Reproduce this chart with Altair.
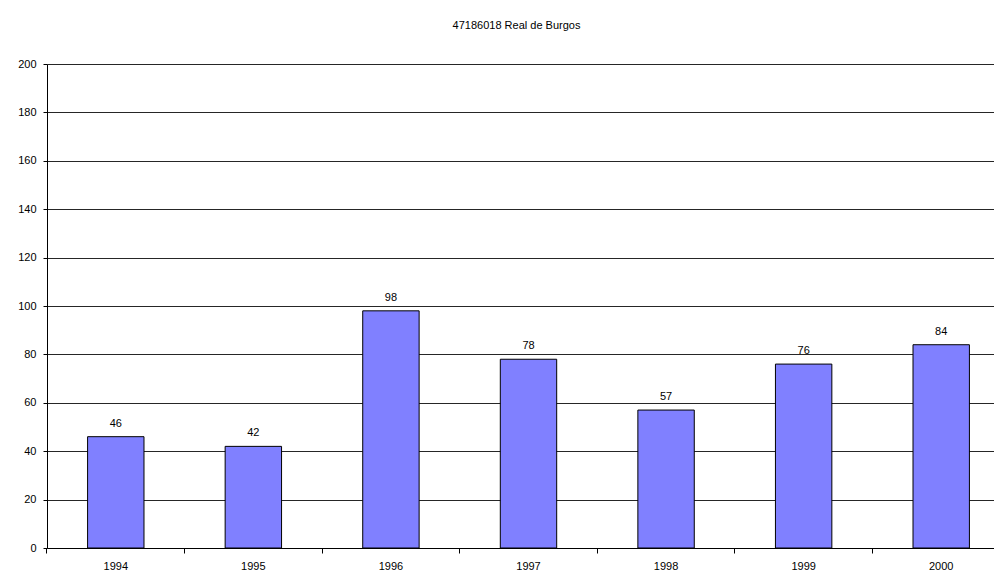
import altair as alt
import pandas as pd

years = ["1994", "1995", "1996", "1997", "1998", "1999", "2000"]
values = [46, 42, 98, 78, 57, 76, 84]
title_text = "47186018 Real de Burgos"

df = pd.DataFrame({"year": years, "value": values})

FONT = "Liberation Sans"

x_enc = alt.X(
    "year:N",
    sort=years,
    title=None,
    scale=alt.Scale(paddingInner=0, paddingOuter=0, range=[0, 963]),
    axis=alt.Axis(
        labelAngle=0,
        bandPosition=0,
        tickSize=5,
        labelPadding=7,
        domainColor="#000000",
        tickColor="#000000",
        labelFont=FONT,
        labelFontSize=11,
        labelColor="#000000",
        grid=False,
        labelBound=False,
        labelOverlap=False,
    ),
)
y_enc = alt.Y(
    "value:Q",
    title=None,
    scale=alt.Scale(domain=[0, 200], nice=False),
    axis=alt.Axis(
        values=[0, 20, 40, 60, 80, 100, 120, 140, 160, 180, 200],
        tickSize=4,
        labelPadding=7,
        domainColor="#000000",
        tickColor="#000000",
        gridColor="#000000",
        gridOpacity=0.85,
        labelFont=FONT,
        labelFontSize=11,
        labelColor="#000000",
    ),
)

bars = alt.Chart(df).mark_bar(
    width=alt.RelativeBandSize(0.41),
    color="#8080FF",
    stroke="#000000",
    strokeWidth=1,
).encode(x=x_enc, y=y_enc)

labels = alt.Chart(df).mark_text(
    baseline="bottom",
    dy=-8,
    font=FONT,
    fontSize=11,
    color="#000000",
).encode(x=alt.X("year:N", sort=years), y="value:Q", text="value:Q")

chart = (
    alt.layer(bars, labels)
    .properties(
        width=947,
        height=484,
        autosize=alt.AutoSizeParams(type="none"),
        padding={"left": 39, "top": 56, "right": 0, "bottom": 24},
        title=alt.TitleParams(
            title_text,
            font=FONT,
            fontSize=11,
            fontWeight="normal",
            color="#000000",
            anchor="middle",
            dx=-4,
            offset=27,
        ),
    )
    .configure_view(stroke=None)
    .configure_axis(grid=True)
)

chart.save("out.html", embed_options={"renderer": "svg", "actions": False})
